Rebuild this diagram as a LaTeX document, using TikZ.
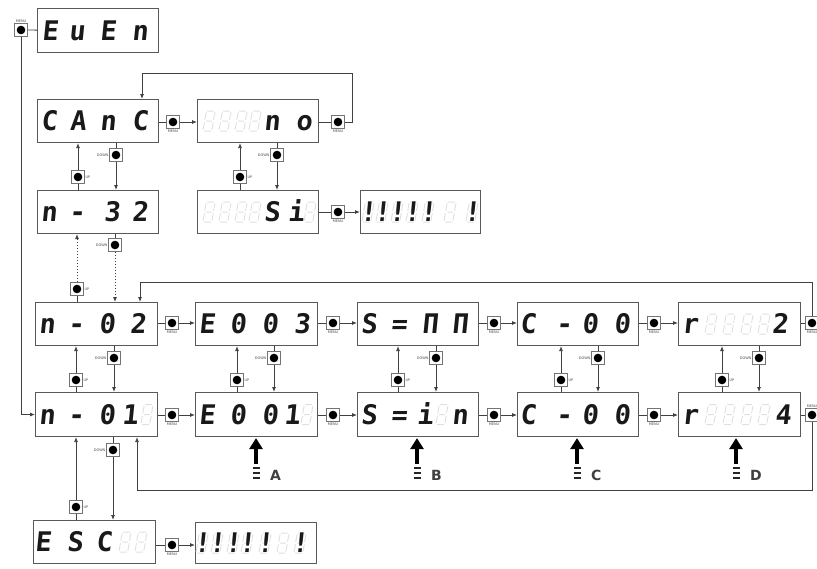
\documentclass[tikz,border=0pt]{standalone}
\usepackage{fontspec}
\setmainfont{DejaVu Sans}
\newfontfamily\segfont[FakeSlant=0.1]{DejaVu Sans Mono}
\usetikzlibrary{arrows.meta}
\tikzset{
 disp/.style={draw=black!65, line width=1.1pt, anchor=north west, inner sep=0},
 segch/.style={font=\segfont\bfseries\fontsize{27}{27}\selectfont, anchor=base, inner sep=0, text=black!90},
 btn/.style={draw=black!55, line width=0.7pt, minimum size=13pt, inner sep=0, fill=white,
   path picture={\fill[black] (path picture bounding box.center) circle (4.3pt);}},
 lbl/.style={font=\fontsize{3.5}{4}\selectfont, text=black!70, inner sep=0.6pt},
 wire/.style={draw=black!75, line width=0.8pt},
 arr/.style={wire, -{Latex[length=5pt,width=4pt]}},
 dots/.style={dash pattern=on 1.5pt off 1.5pt},
 bigarr/.style={draw=black, line width=4.5pt, -{Triangle[length=11pt,width=13pt]}},
 stripe/.style={draw=black!85, line width=1.4pt},
 letter/.style={font=\bfseries\fontsize{14}{14}\selectfont, text=black!75, inner sep=0},
 ghost8/.pic={\draw[gray!25, line width=0.9pt, line cap=round]
   (-1.5,-10)--(4.5,-10) (5.9,-8.5)--(4.6,-1.5) (4.2,1.5)--(2.9,8.5)
   (-4.5,10)--(1.5,10) (-4.6,1.5)--(-5.9,8.5) (-2.9,-8.5)--(-4.2,-1.5) (-2.5,0)--(2.5,0);},
}
\newcommand\dbox[5]{\node[disp, minimum width=#4pt-#2pt, minimum height=#5pt-#3pt] (#1) at (#2,#3) {};}
\newcommand\sg[3]{\node[segch] (#1c#2) at ([xshift=#2pt, yshift=-9.5pt]#1.west) {#3};}
\newcommand\gh[2]{\pic at ([xshift=#2pt]#1.west) {ghost8};}
\begin{document}
\begin{tikzpicture}[x=1pt,y=-1pt]
\useasboundingbox (0,0) rectangle (817,568);
% ---------- display boxes ----------
\dbox{even}{37}{8}{158}{52}
\dbox{canc}{37}{99}{158}{142}
\dbox{no}{197}{99}{318}{142}
\dbox{n32}{37}{190}{158}{233}
\dbox{si}{197}{190}{318}{233}
\dbox{bangA}{360}{190}{480}{233}
\dbox{n02}{35}{302}{157}{345}
\dbox{e003}{195}{302}{317}{345}
\dbox{sunn}{357}{302}{478}{345}
\dbox{chA}{517}{302}{638}{345}
\dbox{rtwo}{678}{302}{800}{345}
\dbox{n01}{35}{392}{157}{436}
\dbox{e001}{195}{392}{317}{436}
\dbox{suin}{357}{392}{478}{436}
\dbox{chB}{517}{392}{638}{436}
\dbox{rfour}{678}{392}{800}{436}
\dbox{esc}{33}{520}{155}{563}
\dbox{bangB}{195}{522}{316}{563}
% ---------- ghost segments ----------
\foreach \p in {12,28,44,58} {\gh{no}{\p}}
\foreach \p in {12,28,44,58,113} {\gh{si}{\p}}
\foreach \p in {8,22,37,52,68,90,112} {\gh{bangA}{\p}}
\foreach \p in {33,51,69,86} {\gh{rtwo}{\p}}
\foreach \p in {33,51,69,86} {\gh{rfour}{\p}}
\gh{n01}{112}
\gh{e001}{112}
\gh{suin}{85}
\foreach \p in {92,108} {\gh{esc}{\p}}
\foreach \p in {7,22,38,52,70,88,105} {\gh{bangB}{\p}}
% ---------- characters ----------
\sg{even}{13}{E}\sg{even}{40}{u}\sg{even}{71}{E}\sg{even}{103}{n}
\sg{canc}{12}{C}\sg{canc}{41}{A}\sg{canc}{71}{n}\sg{canc}{103}{C}
\sg{no}{75}{n}\sg{no}{107}{o}
\sg{n32}{12}{n}\sg{n32}{40}{-}\sg{n32}{75}{3}\sg{n32}{103}{2}
\sg{si}{75}{S}\sg{si}{99}{i}
\sg{bangA}{8}{!}\sg{bangA}{22}{!}\sg{bangA}{37}{!}\sg{bangA}{52}{!}\sg{bangA}{68}{!}\sg{bangA}{112}{!}
\sg{n02}{12}{n}\sg{n02}{41}{-}\sg{n02}{72}{0}\sg{n02}{103}{2}
\sg{e003}{12}{E}\sg{e003}{43}{0}\sg{e003}{75}{0}\sg{e003}{107}{3}
\sg{sunn}{12}{S}\sg{sunn}{42}{=}\sg{sunn}{73}{Π}\sg{sunn}{103}{Π}
\sg{chA}{11}{C}\sg{chA}{47}{-}\sg{chA}{73}{0}\sg{chA}{105}{0}
\sg{rtwo}{12}{r}\sg{rtwo}{102}{2}
\sg{n01}{12}{n}\sg{n01}{41}{-}\sg{n01}{72}{0}\sg{n01}{95}{1}
\sg{e001}{12}{E}\sg{e001}{43}{0}\sg{e001}{75}{0}\sg{e001}{97}{1}
\sg{suin}{12}{S}\sg{suin}{42}{=}\sg{suin}{68}{i}\sg{suin}{103}{n}
\sg{chB}{11}{C}\sg{chB}{47}{-}\sg{chB}{73}{0}\sg{chB}{105}{0}
\sg{rfour}{12}{r}\sg{rfour}{105}{4}
\sg{esc}{10}{E}\sg{esc}{42}{S}\sg{esc}{71}{C}
\sg{bangB}{7}{!}\sg{bangB}{22}{!}\sg{bangB}{38}{!}\sg{bangB}{52}{!}\sg{bangB}{70}{!}\sg{bangB}{105}{!}
% ---------- top-left button ----------
\node[btn] (b0) at (21,30) {};
\node[lbl, anchor=south] (b0l) at (b0.north) {MENU};
\draw[wire] (b0) -- (even);
\draw[arr] (b0) |- (n01.west);
% ---------- CAnC / no row ----------
\node[btn] (bc1) at (173,122) {};
\node[lbl, anchor=north] (bc1l) at (bc1.south) {MENU};
\draw[wire] (canc.east |- bc1) -- (bc1);
\draw[arr] (bc1) -- (bc1 -| no.west);
\node[btn] (bc2) at (338,122) {};
\node[lbl, anchor=north] (bc2l) at (bc2.south) {MENU};
\draw[wire] (no.east |- bc2) -- (bc2);
\coordinate (lp0) at (142,73);
\draw[arr] (bc2.east) -- ++(8,0) |- (lp0) -- (lp0 |- canc.north);
% canc <-> n32
\node[btn] (u1) at (78,177) {};
\node[lbl, anchor=west] (u1l) at (u1.east) {UP};
\draw[arr] (u1) -- (u1 |- canc.south);
\draw[wire] (u1) -- (u1 |- n32.north);
\node[btn] (d1) at (116,155) {};
\node[lbl, anchor=east] (d1l) at (d1.west) {DOWN};
\draw[wire] (d1) -- (d1 |- canc.south);
\draw[arr] (d1) -- (d1 |- n32.north);
% no <-> si
\node[btn] (u2) at (240,177) {};
\node[lbl, anchor=west] (u2l) at (u2.east) {UP};
\draw[arr] (u2) -- (u2 |- no.south);
\draw[wire] (u2) -- (u2 |- si.north);
\node[btn] (d2) at (277,155) {};
\node[lbl, anchor=east] (d2l) at (d2.west) {DOWN};
\draw[wire] (d2) -- (d2 |- no.south);
\draw[arr] (d2) -- (d2 |- si.north);
% si -> bangA
\node[btn] (bs) at (338,212) {};
\node[lbl, anchor=north] (bsl) at (bs.south) {MENU};
\draw[wire] (si.east |- bs) -- (bs);
\draw[arr] (bs) -- (bs -| bangA.west);
% n32 <-> n02 (dotted)
\node[btn] (u3) at (77,289) {};
\node[lbl, anchor=west] (u3l) at (u3.east) {UP};
\draw[arr, dots] (u3) -- (u3 |- n32.south);
\draw[wire] (u3) -- (u3 |- n02.north);
\node[btn] (d3) at (115,245) {};
\node[lbl, anchor=east] (d3l) at (d3.west) {DOWN};
\draw[wire] (d3) -- (d3 |- n32.south);
\draw[arr, dots] (d3) -- (d3 |- n02.north);
% ---------- row 1 ----------
\foreach \a/\b/\x [count=\i] in {n02/e003/172, e003/sunn/333, sunn/chA/494, chA/rtwo/654} {
  \node[btn] (h\i) at (\x,323) {};
  \node[lbl, anchor=north] (h\i l) at (h\i.south) {MENU};
  \draw[wire] (\a.east |- h\i) -- (h\i);
  \draw[arr] (h\i) -- (h\i -| \b.west);
}
\node[btn] (hr) at (812,323) {};
\node[lbl, anchor=north] (hrl) at (hr.south) {MENU};
\draw[wire] (rtwo.east |- hr) -- (hr);
\coordinate (lp1) at (140,282);
\draw[arr] (hr) |- (lp1) -- (lp1 |- n02.north);
% ---------- row 2 ----------
\foreach \a/\b/\x [count=\i] in {n01/e001/172, e001/suin/333, suin/chB/494, chB/rfour/654} {
  \node[btn] (k\i) at (\x,415) {};
  \node[lbl, anchor=north] (k\i l) at (k\i.south) {MENU};
  \draw[wire] (\a.east |- k\i) -- (k\i);
  \draw[arr] (k\i) -- (k\i -| \b.west);
}
\node[btn] (kr) at (812,415) {};
\node[lbl, anchor=south] (krl) at (kr.north) {MENU};
\draw[wire] (rfour.east |- kr) -- (kr);
\coordinate (lp2) at (137,490);
\draw[arr] (kr) |- (lp2) -- (lp2 |- n01.south);
% ---------- row1 <-> row2 ----------
\foreach \a/\b/\ux/\dx [count=\i] in {n02/n01/76/114, e003/e001/237/274, sunn/suin/398/436, chA/chB/561/598, rtwo/rfour/722/759} {
  \node[btn] (v\i) at (\ux,380) {};
  \node[lbl, anchor=west] (v\i l) at (v\i.east) {UP};
  \draw[arr] (v\i) -- (v\i |- \a.south);
  \draw[wire] (v\i) -- (v\i |- \b.north);
  \node[btn] (w\i) at (\dx,358) {};
  \node[lbl, anchor=east] (w\i l) at (w\i.west) {DOWN};
  \draw[wire] (w\i) -- (w\i |- \a.south);
  \draw[arr] (w\i) -- (w\i |- \b.north);
}
% ---------- n01 <-> esc ----------
\node[btn] (u9) at (76,507) {};
\node[lbl, anchor=west] (u9l) at (u9.east) {UP};
\draw[arr] (u9) -- (u9 |- n01.south);
\draw[wire] (u9) -- (u9 |- esc.north);
\node[btn] (d9) at (113,450) {};
\node[lbl, anchor=east] (d9l) at (d9.west) {DOWN};
\draw[wire] (d9) -- (d9 |- n01.south);
\draw[arr] (d9) -- (d9 |- esc.north);
\node[btn] (be) at (172,545) {};
\node[lbl, anchor=north] (bel) at (be.south) {MENU};
\draw[wire] (esc.east |- be) -- (be);
\draw[arr] (be) -- (be -| bangB.west);
% ---------- big arrows A-D ----------
\foreach \bx/\x/\t in {e001/256/A, suin/417/B, chB/577/C, rfour/736/D} {
  \coordinate (ba\t) at (\x,464);
  \draw[bigarr] (ba\t) -- ([yshift=-1pt]ba\t |- \bx.south);
  \draw[stripe] (\x-3.5,468) -- (\x+3.5,468) (\x-3.5,473) -- (\x+3.5,473) (\x-3.5,478) -- (\x+3.5,478);
  \node[letter, anchor=west] (lab\t) at (\x+14,475) {\t};
}
\end{tikzpicture}
\end{document}
